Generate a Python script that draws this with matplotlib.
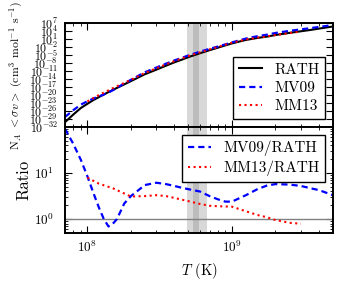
import numpy as np
import matplotlib
matplotlib.use('Agg')
import matplotlib.pyplot as plt
from matplotlib.ticker import FixedLocator, LogFormatterMathtext, LogLocator, NullFormatter

plt.rcParams['font.family'] = 'cmr10'
plt.rcParams['mathtext.fontset'] = 'cm'
plt.rcParams['axes.formatter.use_mathtext'] = True

# temperature grid (T9) and log10 of the rates
t9 = [0.07, 0.08, 0.09, 0.1, 0.11, 0.12, 0.13, 0.14, 0.15, 0.16, 0.18, 0.2,
      0.25, 0.3, 0.35, 0.4, 0.45, 0.5, 0.6, 0.7, 0.8, 0.9, 1.0, 1.25, 1.5,
      1.75, 2.0, 2.5, 3.0, 3.5, 4.0, 5.0]
rath_log = [-30.2, -27.3, -24.9, -23.3, -21.9, -20.8, -19.8, -18.9, -18.1, -17.35, -16.0, -14.8,
            -12.2, -10.5, -9.0, -7.75, -6.75, -5.8, -4.35, -3.2, -2.25, -1.4, -0.65, 0.65, 1.4,
            1.9, 2.5, 3.3, 3.9, 4.4, 4.9, 5.7]
mv09_log = [-28.24, -25.67, -23.61, -22.37, -21.33, -20.55, -19.8, -19.06, -18.2, -17.35, -15.66, -14.3,
            -11.46, -9.71, -8.24, -7.03, -6.07, -5.15, -3.75, -2.7, -1.82, -1.02, -0.27, 1.17, 2.05,
            2.63, 3.26, 4.05, 4.62, 5.07, 5.53, 6.22]
# log10 of MV09/RATH on the same grid
mv09_ratio_log = [1.96, 1.63, 1.29, 0.93, 0.57, 0.255, 0.0, -0.16, -0.1, 0.0, 0.34, 0.5,
                  0.74, 0.79, 0.76, 0.72, 0.68, 0.65, 0.6, 0.5, 0.43, 0.38, 0.38, 0.52, 0.65,
                  0.73, 0.76, 0.75, 0.72, 0.67, 0.63, 0.52]

t9_mm13 = [0.1, 0.12, 0.15, 0.2, 0.25, 0.3, 0.35, 0.4, 0.5, 0.6, 0.7, 0.8, 1.0,
           1.25, 1.5, 1.75, 2.0, 2.5, 3.0]
mm13_log = [-22.4, -20.03, -17.43, -14.31, -11.7, -9.98, -8.5, -7.29, -5.41, -4.02, -2.91, -1.97, -0.38,
            0.82, 1.49, 1.94, 2.48, 3.22, 3.8]
mm13_ratio_log = [0.9, 0.77, 0.67, 0.49, 0.5, 0.52, 0.5, 0.46, 0.39, 0.33, 0.29, 0.28, 0.27,
                  0.17, 0.09, 0.04, -0.02, -0.08, -0.1]

# shaded temperature windows (K)
windows = [(4.9e8, 5.95e8), (5.4e8, 6.75e8)]

T = np.array(t9) * 1e9
Tm = np.array(t9_mm13) * 1e9
dash = (0, (2.8, 1.8))

fig = plt.figure(figsize=(3.41, 2.85), dpi=100)
ax1 = fig.add_axes([0.1906, 0.5544, 0.7859, 0.3649])
ax2 = fig.add_axes([0.1906, 0.1825, 0.7859, 0.3719], sharex=ax1)

ax1.plot(T, 10**np.array(rath_log), 'k-', lw=1.5, label='RATH')
ax1.plot(T, 10**np.array(mv09_log), color='b', ls=dash, lw=1.6, label='MV09')
ax1.plot(Tm, 10**np.array(mm13_log), color='r', ls=':', lw=1.5, label='MM13')

ax2.axhline(1.0, color='gray', lw=1)
ax2.plot(T, 10**np.array(mv09_ratio_log), color='b', ls=dash, lw=1.6, label='MV09/RATH')
ax2.plot(Tm, 10**np.array(mm13_ratio_log), color='r', ls=':', lw=1.5, label='MM13/RATH')

for ax in (ax1, ax2):
    for lo, hi in windows:
        ax.axvspan(lo, hi, color='gray', alpha=0.3, lw=0)
    ax.set_xscale('log')
    ax.set_yscale('log')
    ax.tick_params(which='both', direction='in', top=True, right=True)
    ax.tick_params(which='major', length=5)
    ax.tick_params(which='minor', length=2.5)
    for s in ax.spines.values():
        s.set_linewidth(1.4)

ax1.set_xlim(7e7, 5e9)
ax1.set_ylim(1e-32, 1e7)
ax1.yaxis.set_major_locator(FixedLocator(10.0**np.arange(-32, 8, 3)))
ax1.yaxis.set_major_formatter(LogFormatterMathtext())
ax1.yaxis.set_minor_locator(FixedLocator([]))
ax1.tick_params(axis='y', labelsize=8.5, pad=5)
plt.setp(ax1.get_xticklabels(), visible=False)
ax1.set_ylabel(r'N$_A$ $<\sigma v>$ (cm$^3$ mol$^{-1}$ s$^{-1}$)', fontsize=8.5, labelpad=3)
ax1.legend(loc='lower right', fontsize=11, fancybox=False, framealpha=1,
           edgecolor='k', handlelength=1.5, labelspacing=0.3)

ax2.set_ylim(0.5, 100)
ax2.yaxis.set_major_locator(FixedLocator([1, 10]))
ax2.yaxis.set_minor_locator(LogLocator(base=10, subs=np.arange(2, 10), numticks=10))
ax2.yaxis.set_minor_formatter(NullFormatter())
ax2.xaxis.set_minor_locator(LogLocator(base=10, subs=np.arange(2, 10), numticks=10))
ax2.xaxis.set_minor_formatter(NullFormatter())
ax2.tick_params(labelsize=9.5)
ax2.tick_params(axis='y', pad=8)
ax2.tick_params(axis='x', pad=5)
ax2.set_ylabel('Ratio', fontsize=12, labelpad=2)
ax2.set_xlabel(r'$T$ (K)', fontsize=10.5)
ax2.legend(loc='upper right', fontsize=11, fancybox=False, framealpha=1,
           edgecolor='k', handlelength=1.5, labelspacing=0.3)

fig.savefig('out.png', dpi=100)
